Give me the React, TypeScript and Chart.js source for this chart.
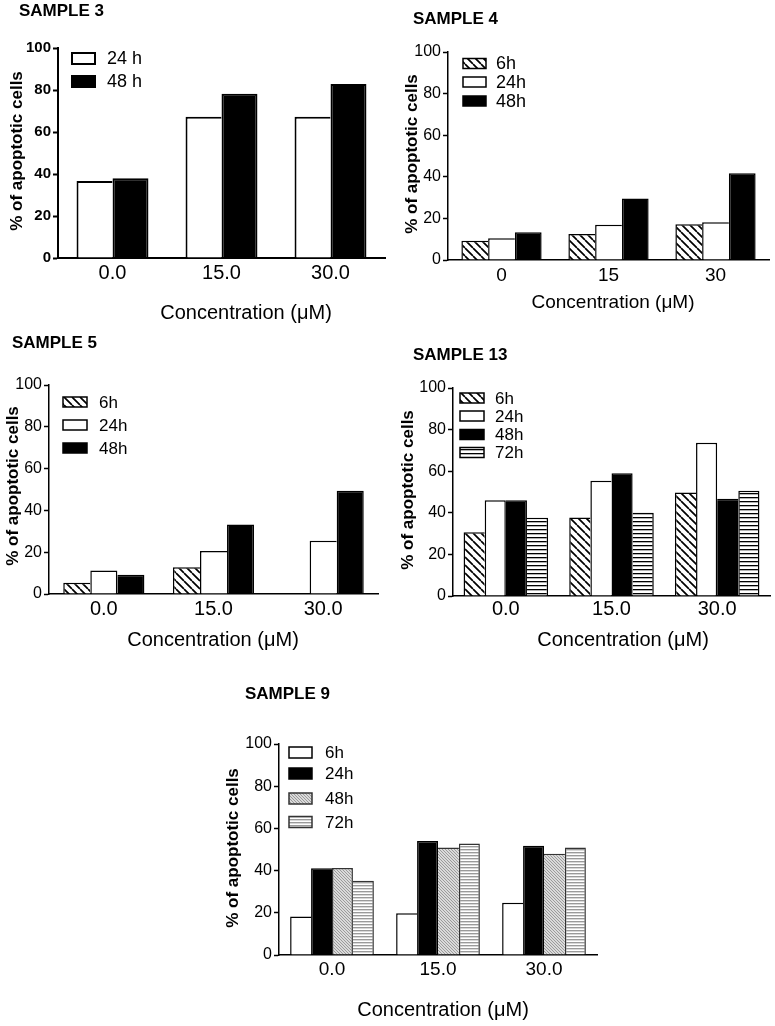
import React, { useEffect, useRef } from 'react';
import { Chart, registerables } from 'chart.js';
Chart.register(...registerables);

const FONT = '"Liberation Sans", Arial, Helvetica, sans-serif';

// ---------- data ----------
const yTicks = [0, 20, 40, 60, 80, 100];
const xAxisTitle = 'Concentration (μM)';
const yAxisTitle = '% of apoptotic cells';

// Sample 3
const s3Categories = ['0.0', '15.0', '30.0'];
const s3Labels = ['24 h', '48 h'];
const s3_24h = [36.7, 67.3, 67.3];
const s3_48h = [38.0, 78.2, 82.9];

// Sample 4
const s4Categories = ['0', '15', '30'];
const s4Labels = ['6h', '24h', '48h'];
const s4_6h = [9.3, 12.5, 17.2];
const s4_24h = [10.4, 17.0, 18.1];
const s4_48h = [13.3, 29.6, 41.7];

// Sample 5
const s5Categories = ['0.0', '15.0', '30.0'];
const s5Labels = ['6h', '24h', '48h'];
const s5_6h: (number | null)[] = [5.4, 12.8, null];
const s5_24h = [11.3, 20.6, 25.5];
const s5_48h = [9.2, 33.2, 49.4];

// Sample 13
const s13Categories = ['0.0', '15.0', '30.0'];
const s13Labels = ['6h', '24h', '48h', '72h'];
const s13_6h = [30.6, 37.8, 49.7];
const s13_24h = [46.0, 55.4, 73.7];
const s13_48h = [46.0, 59.0, 46.8];
const s13_72h = [37.6, 40.0, 50.6];

// Sample 9
const s9Categories = ['0.0', '15.0', '30.0'];
const s9Labels = ['6h', '24h', '48h', '72h'];
const s9_6h = [18.2, 19.8, 24.8];
const s9_24h = [41.1, 54.0, 51.8];
const s9_48h = [41.2, 50.9, 48.0];
const s9_72h = [35.2, 52.9, 51.0];

// ---------- fills ----------
type FillKey = 'white' | 'black' | 'hatch' | 'hstripe' | 'grayhatch' | 'graystripe';

function makeFills(): Record<FillKey, string | CanvasPattern> {
  const tile = (w: number, h: number, draw: (g: CanvasRenderingContext2D) => void) => {
    const c = document.createElement('canvas');
    c.width = w;
    c.height = h;
    const g = c.getContext('2d')!;
    draw(g);
    return g.createPattern(c, 'repeat')!;
  };
  const hatch = tile(8, 8, (g) => {
    g.fillStyle = '#fff';
    g.fillRect(0, 0, 8, 8);
    g.strokeStyle = '#000';
    g.lineWidth = 1.7;
    g.beginPath();
    for (let k = -1; k <= 1; k++) {
      g.moveTo(k * 8, 0);
      g.lineTo(k * 8 + 8, 8);
    }
    g.stroke();
  });
  const hstripe = tile(4, 4, (g) => {
    g.fillStyle = '#fff';
    g.fillRect(0, 0, 4, 4);
    g.fillStyle = '#000';
    g.fillRect(0, 0, 4, 1.3);
  });
  const grayhatch = tile(3, 3, (g) => {
    g.fillStyle = '#dadada';
    g.fillRect(0, 0, 3, 3);
    g.strokeStyle = '#8a8a8a';
    g.lineWidth = 0.8;
    g.beginPath();
    for (let k = -1; k <= 1; k++) {
      g.moveTo(k * 3, 0);
      g.lineTo(k * 3 + 3, 3);
    }
    g.stroke();
  });
  const graystripe = tile(3, 3, (g) => {
    g.fillStyle = '#fff';
    g.fillRect(0, 0, 3, 3);
    g.fillStyle = '#9a9a9a';
    g.fillRect(0, 0, 3, 1);
    g.fillStyle = '#d8d8d8';
    g.fillRect(0, 1, 3, 1);
  });
  return { white: '#ffffff', black: '#000000', hatch, hstripe, grayhatch, graystripe };
}

// ---------- panel config ----------
type Series = { label: string; data: (number | null)[]; fill: FillKey; border?: string };
type PanelCfg = {
  title: string;
  titlePos: [number, number];
  box: [number, number, number, number];
  area: [number, number, number, number];
  categories: string[];
  series: Series[];
  catPct: number;
  yTickSize: number;
  yTickWeight: string;
  xTickSize: number;
  xTickPad: number;
  yTitlePos: [number, number];
  xTitlePos: [number, number];
  xTitleSize: number;
  legend: { boxX: number; boxW: number; boxH: number; textX: number; rows: number[]; size: number };
  lineW: number;
};

const panels: PanelCfg[] = [
  {
    title: 'SAMPLE 3',
    titlePos: [19, 11],
    box: [0, 0, 390, 325],
    area: [58, 48, 385, 258],
    categories: s3Categories,
    series: [
      { label: s3Labels[0], data: s3_24h, fill: 'white' },
      { label: s3Labels[1], data: s3_48h, fill: 'black' },
    ],
    catPct: 0.66,
    yTickSize: 15,
    yTickWeight: 'bold',
    xTickSize: 20,
    xTickPad: 3,
    yTitlePos: [17, 151],
    xTitlePos: [246, 313],
    xTitleSize: 20,
    legend: { boxX: 72, boxW: 23, boxH: 11, textX: 107, rows: [58.5, 81.5], size: 18 },
    lineW: 2,
  },
  {
    title: 'SAMPLE 4',
    titlePos: [413, 19],
    box: [385, 0, 390, 325],
    area: [448, 52, 769, 260],
    categories: s4Categories,
    series: [
      { label: s4Labels[0], data: s4_6h, fill: 'hatch' },
      { label: s4Labels[1], data: s4_24h, fill: 'white' },
      { label: s4Labels[2], data: s4_48h, fill: 'black' },
    ],
    catPct: 0.75,
    yTickSize: 16,
    yTickWeight: 'normal',
    xTickSize: 19,
    xTickPad: 4,
    yTitlePos: [412, 154],
    xTitlePos: [613, 303],
    xTitleSize: 19,
    legend: { boxX: 463, boxW: 23, boxH: 10, textX: 496, rows: [63.5, 82, 101], size: 18 },
    lineW: 1.5,
  },
  {
    title: 'SAMPLE 5',
    titlePos: [12, 343],
    box: [0, 325, 385, 335],
    area: [49, 385, 378, 594],
    categories: s5Categories,
    series: [
      { label: s5Labels[0], data: s5_6h, fill: 'hatch' },
      { label: s5Labels[1], data: s5_24h, fill: 'white' },
      { label: s5Labels[2], data: s5_48h, fill: 'black' },
    ],
    catPct: 0.74,
    yTickSize: 16,
    yTickWeight: 'normal',
    xTickSize: 20,
    xTickPad: 3,
    yTitlePos: [13, 486],
    xTitlePos: [213, 640],
    xTitleSize: 20,
    legend: { boxX: 63, boxW: 24, boxH: 10, textX: 99, rows: [402, 425, 448], size: 17 },
    lineW: 1.5,
  },
  {
    title: 'SAMPLE 13',
    titlePos: [413, 355],
    box: [385, 325, 390, 335],
    area: [453, 388, 770, 596],
    categories: s13Categories,
    series: [
      { label: s13Labels[0], data: s13_6h, fill: 'hatch' },
      { label: s13Labels[1], data: s13_24h, fill: 'white' },
      { label: s13Labels[2], data: s13_48h, fill: 'black' },
      { label: s13Labels[3], data: s13_72h, fill: 'hstripe' },
    ],
    catPct: 0.8,
    yTickSize: 16,
    yTickWeight: 'normal',
    xTickSize: 20,
    xTickPad: 1,
    yTitlePos: [408, 490],
    xTitlePos: [623, 640],
    xTitleSize: 20,
    legend: { boxX: 460, boxW: 24, boxH: 10, textX: 495, rows: [398, 416, 434.5, 452.5], size: 17 },
    lineW: 1.5,
  },
  {
    title: 'SAMPLE 9',
    titlePos: [245, 694],
    box: [190, 660, 420, 366],
    area: [279, 744, 597, 955],
    categories: s9Categories,
    series: [
      { label: s9Labels[0], data: s9_6h, fill: 'white' },
      { label: s9Labels[1], data: s9_24h, fill: 'black' },
      { label: s9Labels[2], data: s9_48h, fill: 'grayhatch', border: '#333' },
      { label: s9Labels[3], data: s9_72h, fill: 'graystripe', border: '#333' },
    ],
    catPct: 0.79,
    yTickSize: 16,
    yTickWeight: 'normal',
    xTickSize: 19,
    xTickPad: 3,
    yTitlePos: [233, 848],
    xTitlePos: [443, 1010],
    xTitleSize: 20,
    legend: { boxX: 289, boxW: 23, boxH: 11, textX: 325, rows: [752.5, 773.5, 798.5, 822], size: 17 },
    lineW: 1.5,
  },
];

function Panel({ cfg }: { cfg: PanelCfg }) {
  const ref = useRef<HTMLCanvasElement>(null);
  const [x0, y0, w, h] = cfg.box;
  useEffect(() => {
    const canvas = ref.current!;
    const [L, T, R, B] = cfg.area;
    const fills = makeFills();
    const lw = cfg.lineW;
    const n = cfg.series.length;
    const datasets = cfg.series.map((s, i) => ({
      label: s.label,
      data: s.data,
      backgroundColor: fills[s.fill],
      borderColor: s.border ?? '#000',
      borderSkipped: false as const,
      // a shared edge between two adjacent bars is drawn once, by the taller bar
      borderWidth: (ctx: any) => {
        const j = ctx.dataIndex;
        const cur = (cfg.series[i].data[j] ?? 0) as number;
        const prev = i > 0 ? ((cfg.series[i - 1].data[j] ?? 0) as number) : 0;
        const next = i < n - 1 ? ((cfg.series[i + 1].data[j] ?? 0) as number) : 0;
        return {
          top: lw,
          bottom: 0,
          left: prev > 0 && prev >= cur ? 0 : lw,
          right: next > 0 && next > cur ? 0 : lw,
        };
      },
      categoryPercentage: cfg.catPct,
      barPercentage: 1,
    }));

    const annot = {
      id: 'annot' + cfg.title.replace(/\s/g, ''),
      afterDraw(chart: any) {
        const c: CanvasRenderingContext2D = chart.ctx;
        c.save();
        c.fillStyle = '#000';
        c.textBaseline = 'middle';
        // panel title
        c.font = `bold 17px ${FONT}`;
        c.textAlign = 'left';
        c.fillText(cfg.title, cfg.titlePos[0] - x0, cfg.titlePos[1] - y0);
        // x title
        c.font = `${cfg.xTitleSize}px ${FONT}`;
        c.textAlign = 'center';
        c.fillText(xAxisTitle, cfg.xTitlePos[0] - x0, cfg.xTitlePos[1] - y0);
        // y title
        c.save();
        c.translate(cfg.yTitlePos[0] - x0, cfg.yTitlePos[1] - y0);
        c.rotate(-Math.PI / 2);
        c.font = `bold 17px ${FONT}`;
        c.textAlign = 'center';
        c.fillText(yAxisTitle, 0, 0);
        c.restore();
        // legend
        const lg = cfg.legend;
        chart.data.datasets.forEach((ds: any, k: number) => {
          const cy = lg.rows[k] - y0;
          const bx = lg.boxX - x0;
          const by = cy - lg.boxH / 2;
          c.fillStyle = ds.backgroundColor;
          c.fillRect(bx, by, lg.boxW, lg.boxH);
          c.strokeStyle = ds.borderColor;
          c.lineWidth = lw;
          c.strokeRect(bx, by, lg.boxW, lg.boxH);
          c.fillStyle = '#000';
          c.font = `${lg.size}px ${FONT}`;
          c.textAlign = 'left';
          c.fillText(ds.label, lg.textX - x0, cy + 1);
        });
        c.restore();
      },
    };

    const chart = new Chart(canvas, {
      type: 'bar',
      data: { labels: cfg.categories, datasets: datasets as any },
      options: {
        animation: false,
        responsive: false,
        devicePixelRatio: 1,
        events: [],
        layout: { padding: { left: 0, top: T - y0, right: x0 + w - R, bottom: 0 } },
        plugins: { legend: { display: false }, tooltip: { enabled: false }, title: { display: false } },
        scales: {
          x: {
            z: 1,
            ticks: {
              color: '#000',
              font: { family: FONT, size: cfg.xTickSize },
              padding: cfg.xTickPad,
              maxRotation: 0,
              autoSkip: false,
            },
            grid: { display: false, drawTicks: false },
            border: { display: true, color: '#000', width: lw },
            afterFit: (s: any) => {
              s.height = y0 + h - B;
            },
          },
          y: {
            z: 1,
            min: yTicks[0],
            max: yTicks[yTicks.length - 1],
            afterBuildTicks: (s: any) => {
              s.ticks = yTicks.map((v) => ({ value: v }));
            },
            ticks: {
              color: '#000',
              font: { family: FONT, size: cfg.yTickSize, weight: cfg.yTickWeight as any },
              padding: 2,
            },
            grid: {
              display: true,
              drawOnChartArea: false,
              drawTicks: true,
              tickLength: 5,
              tickWidth: lw,
              tickColor: '#000',
              color: '#000',
            },
            border: { display: true, color: '#000', width: lw },
            afterFit: (s: any) => {
              s.width = L - x0;
            },
          },
        },
      },
      plugins: [annot],
    });
    return () => chart.destroy();
  }, []);
  return (
    <canvas
      ref={ref}
      width={w}
      height={h}
      style={{ position: 'absolute', left: x0, top: y0, width: w, height: h, display: 'block' }}
    />
  );
}

export default function App() {
  return (
    <div style={{ position: 'absolute', left: 0, top: 0, width: 775, height: 1026, background: '#fff', overflow: 'hidden' }}>
      {panels.map((p) => (
        <Panel key={p.title} cfg={p} />
      ))}
    </div>
  );
}
